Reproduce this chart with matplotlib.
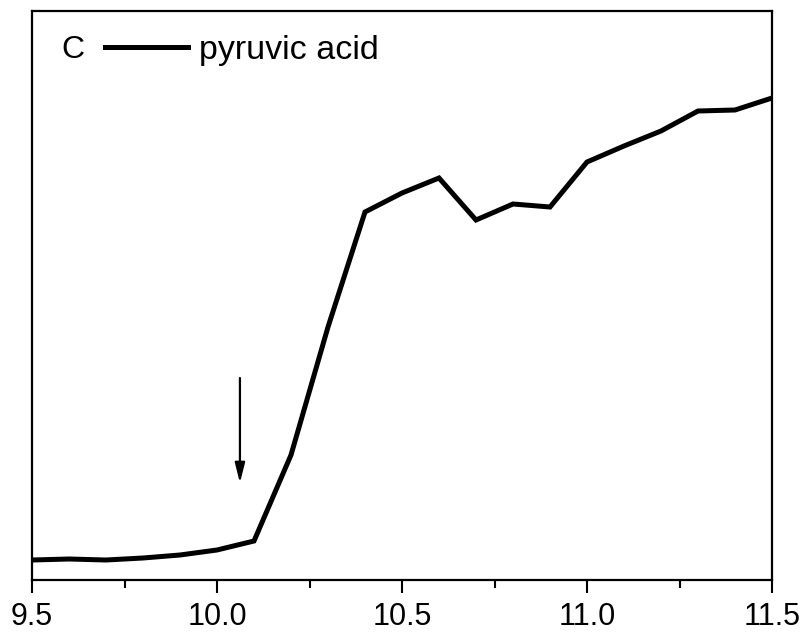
import matplotlib
matplotlib.use("Agg")
import matplotlib.pyplot as plt
from matplotlib.ticker import MultipleLocator, FixedLocator

plt.rcParams['font.family'] = ['Liberation Sans', 'DejaVu Sans']

ph = [9.5, 9.6, 9.7, 9.8, 9.9, 10.0, 10.1, 10.2, 10.3, 10.4, 10.5,
      10.6, 10.7, 10.8, 10.9, 11.0, 11.1, 11.2, 11.3, 11.4, 11.5]
signal = [20, 21, 20, 22, 25, 30, 39, 125, 253, 368, 387,
          402, 360, 376, 373, 418, 434, 449, 469, 470, 482]
xticks = [9.5, 10.0, 10.5, 11.0, 11.5]
xticklabels = ["9.5", "10.0", "10.5", "11.0", "11.5"]
series_label = "pyruvic acid"
panel_label = "C"
arrow_x = 10.062
arrow_y = (202, 97)

W, H = 809, 632
fig = plt.figure(figsize=(W / 100, H / 100), dpi=100)
L, R, B, T = 32, 772, 580, 11
ax = fig.add_axes([L / W, (H - B) / H, (R - L) / W, (B - T) / H])

ax.plot(ph, signal, color='black', lw=3.6, solid_joinstyle='miter', label=series_label)
ax.set_xlim(9.5, 11.5)
ax.set_ylim(0, B - T)

ax.xaxis.set_major_locator(FixedLocator(xticks))
ax.set_xticklabels(xticklabels)
ax.xaxis.set_minor_locator(MultipleLocator(0.25))
ax.set_yticks([])
ax.tick_params(axis='x', which='major', direction='out', length=9.5, width=1.5,
               labelsize=22, pad=6)
ax.tick_params(axis='x', which='minor', direction='out', length=5.5, width=1.5)
for s in ax.spines.values():
    s.set_linewidth(1.6)

ax.annotate('', xy=(arrow_x, arrow_y[1]), xytext=(arrow_x, arrow_y[0]),
            arrowprops=dict(arrowstyle='-|>,head_length=1.2,head_width=0.3',
                            color='black', lw=1.6, shrinkA=0, shrinkB=0))

ax.text((61 - L) / (R - L), (B - 50) / (B - T), panel_label, transform=ax.transAxes,
        ha='left', va='center', fontsize=23)
ax.legend(loc='center left', bbox_to_anchor=((105 - L) / (R - L), (B - 50) / (B - T)),
          frameon=False, fontsize=24.5, handlelength=2.44, handletextpad=0.32,
          borderpad=0, borderaxespad=0)

fig.savefig('out.png', dpi=100)
